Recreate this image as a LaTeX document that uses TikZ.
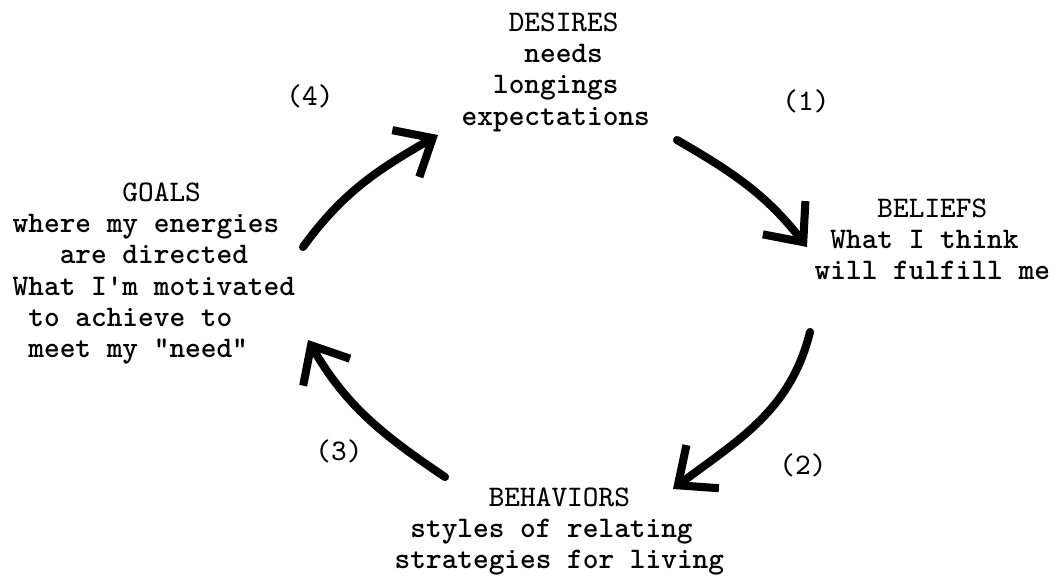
\documentclass[tikz,border=0pt]{standalone}
\usepackage{tikz}
\usetikzlibrary{arrows.meta}

\newcommand{\typed}{\ttfamily\fontsize{8.5}{8.9}\selectfont}

\begin{document}
\begin{tikzpicture}[
	block/.style={anchor=north west, inner sep=0, align=left, font=\typed\bfseries},
	num/.style={inner sep=0, font=\typed},
	flow/.style={line width=2.3pt, line cap=round, -{Straight Barb[length=3.1mm, width=5.4mm]}}]
	\useasboundingbox (0,0) rectangle (10.57,5.77);
	% the four stages
	\node[block] (desires) at (4.61,5.65) {\hspace*{1.575em}{\mdseries DESIRES}\\ \hspace*{2.1em}needs\\ \hspace*{1.05em}longings\\ expectations};
	\node[block] (beliefs) at (8.14,3.79) {\hspace*{2.1em}{\mdseries BELIEFS}\\ \hspace*{0.525em}What I think\\ will fulfill me};
	\node[block] (behaviors) at (3.94,0.90) {\hspace*{3.15em}{\mdseries BEHAVIORS}\\ \hspace*{0.525em}styles of relating\\ strategies for living};
	\node[block] (goals) at (0.12,3.95) {\hspace*{3.675em}{\mdseries GOALS}\\ where my energies\\ \hspace*{1.575em}are directed\\ What I'm motivated\\ \hspace*{0.525em}to achieve to\\ \hspace*{0.525em}meet my "need"};
	% step numbers
	\node[num] (n1) at (8.06,4.76) {(1)};
	\node[num] (n2) at (8.03,1.12) {(2)};
	\node[num] (n3) at (3.39,1.26) {(3)};
	\node[num] (n4) at (3.10,4.81) {(4)};
	% arrow ends
	\coordinate (d-out) at (6.77,4.37);
	\coordinate (b-in) at (8.07,3.30);
	\coordinate (b-out) at (8.10,2.45);
	\coordinate (h-in) at (6.73,0.88);
	\coordinate (h-out) at (4.45,1.00);
	\coordinate (g-in) at (3.08,2.37);
	\coordinate (g-out) at (3.03,3.30);
	\coordinate (d-in) at (4.38,4.42);
	\draw[flow] (d-out) to[out=-30, in=128] (b-in);
	\draw[flow] (b-out) to[out=-104, in=37] (h-in);
	\draw[flow] (h-out) to[out=146, in=-60] (g-in);
	\draw[flow] (g-out) to[out=54, in=-150] (d-in);
\end{tikzpicture}
\end{document}
